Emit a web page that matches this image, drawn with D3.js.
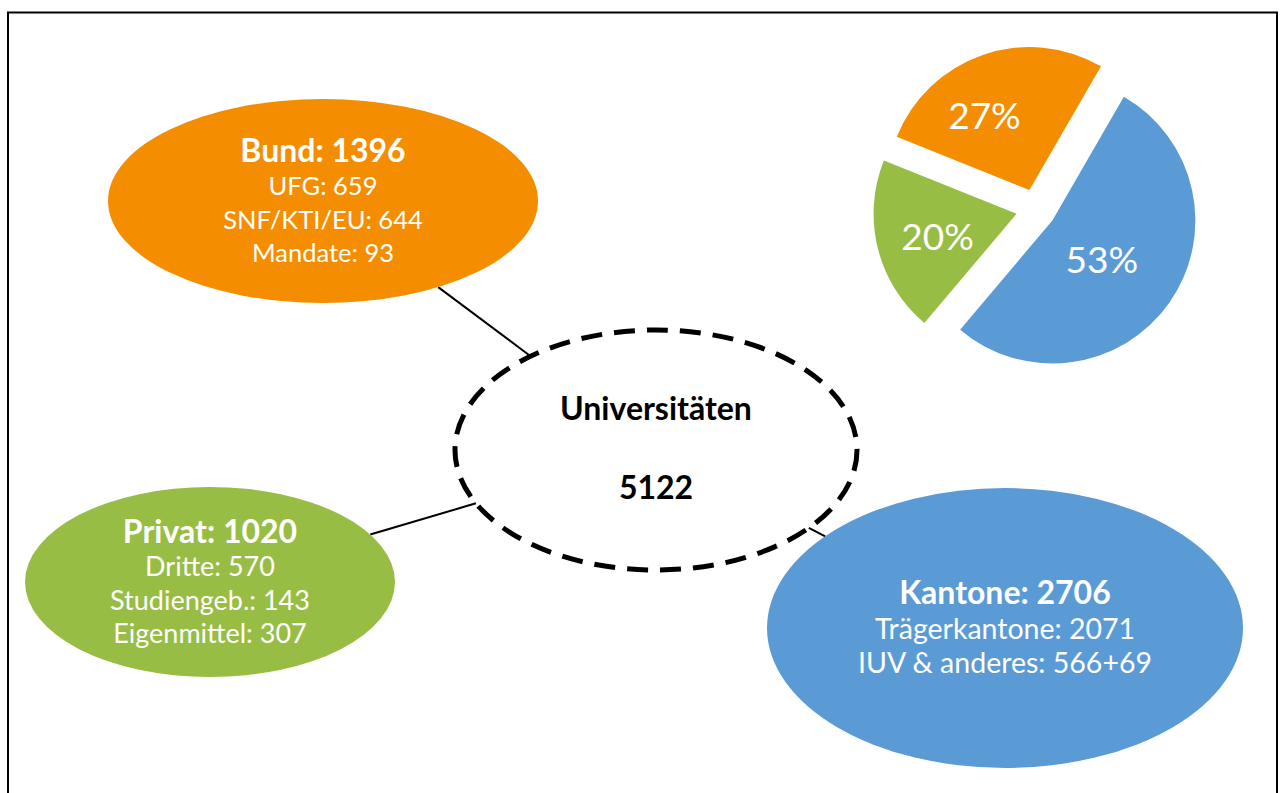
<!DOCTYPE html>
<html>
<head>
<meta charset="utf-8">
<script src="https://cdn.jsdelivr.net/npm/d3@7"></script>
<style>
  html, body { margin: 0; padding: 0; background: #fff; }
  svg { display: block; }
  text { font-family: Lato, "Open Sans", sans-serif; }
</style>
</head>
<body>
<svg id="chart" width="1280" height="793"></svg>
<script>
// ---- data ----
const sources = ["Bund", "Privat", "Kantone"];
const totals = [1396, 1020, 2706];
const subLabels = [
  ["UFG: 659", "SNF/KTI/EU: 644", "Mandate: 93"],
  ["Dritte: 570", "Studiengeb.: 143", "Eigenmittel: 307"],
  ["Trägerkantone: 2071", "IUV & anderes: 566+69"]
];
const centerLabel = "Universitäten";
const centerTotal = 5122;
const pieOrder = ["Kantone", "Privat", "Bund"];
const colors = { Bund: "#F48E00", Privat: "#98BD44", Kantone: "#5B9BD5" };

// ---- layout ----
const layout = {
  Bund:    { cx: 323, cy: 201, rx: 215, ry: 102, sub: 25.5, lh: 33.3, first: -39 },
  Privat:  { cx: 210, cy: 582, rx: 185, ry: 95, sub: 27, lh: 33.3, first: -39 },
  Kantone: { cx: 1005, cy: 628, rx: 238, ry: 140, sub: 28.5, lh: 34.5, first: -24 },
  center:  { cx: 656, cy: 450, rx: 201, ry: 120 },
  pie: { cx: 1036, cy: 209, r: 143, explode: 20, startDeg: 30 },
  // label placement: fraction of radius, angular offset (deg) from slice bisector
  label: { Kantone: [0.44, 3], Privat: [0.575, -2], Bund: [0.61, -12] }
};

const svg = d3.select("#chart");

// outer frame
svg.append("rect")
  .attr("x", 8).attr("y", 12.5).attr("width", 1269).attr("height", 800)
  .attr("fill", "none").attr("stroke", "#000").attr("stroke-width", 2);

// boundary point of ellipse e in direction (dx,dy)
function boundary(e, dx, dy) {
  const t = 1 / Math.sqrt((dx / e.rx) ** 2 + (dy / e.ry) ** 2);
  return [e.cx + dx * t, e.cy + dy * t];
}

// connectors
const C = layout.center;
sources.forEach(s => {
  const n = layout[s];
  const dx = C.cx - n.cx, dy = C.cy - n.cy;
  const p1 = boundary(n, dx, dy);
  const p2 = boundary(C, -dx, -dy);
  svg.append("line")
    .attr("x1", p1[0]).attr("y1", p1[1]).attr("x2", p2[0]).attr("y2", p2[1])
    .attr("stroke", "#000").attr("stroke-width", 2);
});

// central dashed ellipse
svg.append("ellipse")
  .attr("cx", C.cx).attr("cy", C.cy).attr("rx", C.rx).attr("ry", C.ry)
  .attr("fill", "none").attr("stroke", "#000").attr("stroke-width", 5)
  .attr("stroke-dasharray", "21 12");

svg.append("text").attr("x", C.cx).attr("y", 420).attr("text-anchor", "middle")
  .attr("font-weight", "bold").attr("font-size", 32).attr("fill", "#000").text(centerLabel);
svg.append("text").attr("x", C.cx).attr("y", 499).attr("text-anchor", "middle")
  .attr("font-weight", "bold").attr("font-size", 32).attr("fill", "#000").text(d3.format("d")(centerTotal));

// source ellipses
sources.forEach((s, i) => {
  const n = layout[s];
  const g = svg.append("g");
  g.append("ellipse").attr("cx", n.cx).attr("cy", n.cy).attr("rx", n.rx).attr("ry", n.ry)
    .attr("fill", colors[s]);
  const lines = [s + ": " + totals[i]].concat(subLabels[i]);
  const y0 = n.cy + n.first;
  lines.forEach((t, k) => {
    g.append("text").attr("x", n.cx).attr("y", y0 + k * n.lh)
      .attr("text-anchor", "middle").attr("fill", "#fff")
      .attr("font-weight", k === 0 ? "bold" : "normal")
      .attr("font-size", k === 0 ? 32 : n.sub)
      .text(t);
  });
});

// pie
const P = layout.pie;
const pieData = pieOrder.map(s => ({ name: s, value: totals[sources.indexOf(s)] }));
const sum = d3.sum(pieData, d => d.value);
const start = P.startDeg * Math.PI / 180;
const arcs = d3.pie().sort(null).value(d => d.value)
  .startAngle(start).endAngle(start + 2 * Math.PI)(pieData);
const arc = d3.arc().innerRadius(0).outerRadius(P.r);
const pg = svg.append("g").attr("transform", `translate(${P.cx},${P.cy})`);
arcs.forEach(a => {
  const mid = (a.startAngle + a.endAngle) / 2;
  const ox = Math.sin(mid) * P.explode, oy = -Math.cos(mid) * P.explode;
  const g = pg.append("g").attr("transform", `translate(${ox},${oy})`);
  g.append("path").attr("d", arc(a)).attr("fill", colors[a.data.name]);
  const [lf, loff] = layout.label[a.data.name];
  const la = mid + loff * Math.PI / 180, lr = lf * P.r;
  g.append("text")
    .attr("x", Math.sin(la) * lr).attr("y", -Math.cos(la) * lr)
    .attr("dy", "0.36em").attr("text-anchor", "middle")
    .attr("fill", "#fff").attr("font-size", 37)
    .text(d3.format(".0%")(a.data.value / sum));
});
</script>
</body>
</html>
